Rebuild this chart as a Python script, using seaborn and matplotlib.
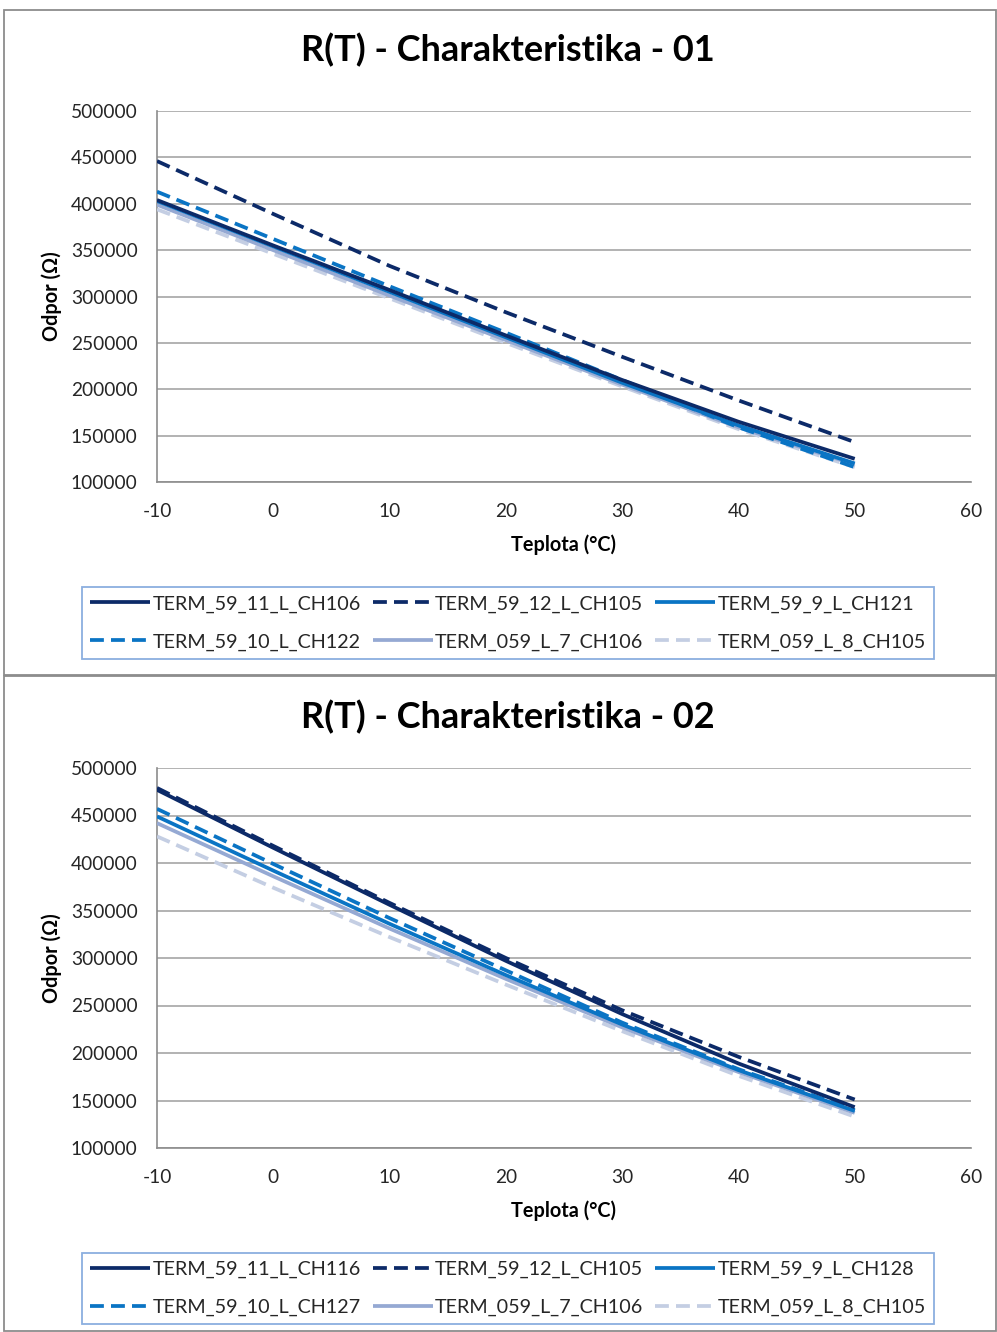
import matplotlib
matplotlib.use("Agg")
import matplotlib.pyplot as plt
import matplotlib.patches as mpatches
import seaborn as sns
import pandas as pd

# ---------------- data ----------------
temps = [-10, 0, 10, 20, 30, 40, 50]

titles = ["R(T) - Charakteristika - 01", "R(T) - Charakteristika - 02"]
x_label = "Teplota (°C)"
y_label = "Odpor (Ω)"
x_ticks = [-10, 0, 10, 20, 30, 40, 50, 60]
y_ticks = [100000, 150000, 200000, 250000, 300000, 350000, 400000, 450000, 500000]

names_1 = ["TERM_59_11_L_CH106", "TERM_59_12_L_CH105", "TERM_59_9_L_CH121",
           "TERM_59_10_L_CH122", "TERM_059_L_7_CH106", "TERM_059_L_8_CH105"]
values_1 = [
    [404000, 355000, 307000, 258000, 210000, 165000, 125000],
    [446000, 389000, 333000, 283000, 235000, 188000, 143000],
    [403000, 354000, 305000, 256000, 207000, 161000, 120000],
    [413000, 362000, 311000, 261000, 210000, 159000, 116000],
    [399000, 350000, 301000, 253000, 205000, 159000, 119000],
    [394000, 346000, 298000, 250000, 203000, 157000, 116000],
]

names_2 = ["TERM_59_11_L_CH116", "TERM_59_12_L_CH105", "TERM_59_9_L_CH128",
           "TERM_59_10_L_CH127", "TERM_059_L_7_CH106", "TERM_059_L_8_CH105"]
values_2 = [
    [477000, 416000, 356000, 297000, 241000, 189000, 143000],
    [479000, 418000, 358000, 300000, 245000, 196000, 151000],
    [449000, 392000, 336000, 282000, 230000, 182000, 139000],
    [457000, 399000, 342000, 287000, 232000, 183000, 140000],
    [442000, 386000, 331000, 278000, 227000, 180000, 137000],
    [428000, 374000, 322000, 272000, 223000, 176000, 133000],
]

# ---------------- style ----------------
colors = ["#0c2a68", "#0c2a68", "#0a74c4", "#0a74c4", "#95a9d3", "#c4cee3"]
dashed = [False, True, False, True, False, True]

sns.set_theme(style="white")
plt.rcParams["font.family"] = ["Lato", "DejaVu Sans"]

W, H = 997, 1332
fig = plt.figure(figsize=(W / 100, H / 100), dpi=100)
fig.patch.set_facecolor("white")


def fx(px):
    return px / W


def fy(py):
    return 1 - py / H


# panel borders
for (top, bot) in [(10, 675), (676, 1331)]:
    fig.patches.append(mpatches.Rectangle((fx(4), fy(bot)), fx(996) - fx(4), fy(top) - fy(bot),
                                          transform=fig.transFigure, fill=False,
                                          edgecolor="#8c8c8c", linewidth=1.3))

panels = [
    dict(names=names_1, values=values_1, ax_top=111, ax_bot=482, title_y=50,
         xlabel_y=545, leg_top=585, leg_bot=661),
    dict(names=names_2, values=values_2, ax_top=768, ax_bot=1148, title_y=717,
         xlabel_y=1211, leg_top=1250, leg_bot=1327),
]

for i, p in enumerate(panels):
    ax = fig.add_axes([fx(157), fy(p["ax_bot"]), fx(971) - fx(157),
                       fy(p["ax_top"]) - fy(p["ax_bot"])])
    ax.set_facecolor("white")
    for j, (name, vals) in enumerate(zip(p["names"], p["values"])):
        df = pd.DataFrame({"T": temps, "R": vals})
        sns.lineplot(data=df, x="T", y="R", ax=ax, color=colors[j], linewidth=2.7,
                     label=name, legend=False, zorder=3 + (5 - j) * 0.1)
        line = ax.get_lines()[-1]
        if dashed[j]:
            line.set_dashes((3.7, 1.9))
        line.set_solid_capstyle("butt")
        line.set_dash_capstyle("butt")

    ax.set_xlim(-10, 60)
    ax.set_ylim(100000, 500000)
    ax.set_xticks(x_ticks)
    ax.set_yticks(y_ticks)
    ax.set_xticklabels([str(t) for t in x_ticks])
    ax.set_yticklabels([str(t) for t in y_ticks])
    ax.yaxis.grid(True, color="#a6a6a6", linewidth=1.2)
    ax.xaxis.grid(False)
    ax.set_axisbelow(True)
    for s in ["top", "right"]:
        ax.spines[s].set_visible(False)
    for s in ["left", "bottom"]:
        ax.spines[s].set_color("#8c8c8c")
        ax.spines[s].set_linewidth(1.2)
    ax.tick_params(axis="both", which="major", direction="out", length=5, width=1.1,
                   color="#8c8c8c", labelsize=13.8, labelcolor="#262626")
    ax.tick_params(axis="x", pad=10)
    ax.tick_params(axis="y", pad=9)
    ax.set_xlabel("")
    ax.set_ylabel("")

    fig.text(fx(508), fy(p["title_y"]), titles[i], ha="center", va="center",
             fontsize=26, fontweight="bold", color="#000000")
    fig.text(fx(563), fy(p["xlabel_y"]), x_label, ha="center", va="center",
             fontsize=14.3, fontweight="bold", color="#000000")
    fig.text(fx(52), fy((p["ax_top"] + p["ax_bot"]) / 2), y_label, ha="center", va="center",
             rotation=90, fontsize=14.3, fontweight="bold", color="#000000")

    handles, labels = ax.get_legend_handles_labels()
    order = [0, 3, 1, 4, 2, 5]
    leg = fig.legend([handles[k] for k in order], [labels[k] for k in order],
                     ncol=3, loc="center",
                     bbox_to_anchor=(fx(508), fy((p["leg_top"] + p["leg_bot"]) / 2)),
                     frameon=True, fancybox=False, fontsize=14.2,
                     handlelength=3.05, handletextpad=0.12, columnspacing=0.6,
                     labelspacing=1.05, borderpad=0.4, borderaxespad=0)
    leg.get_frame().set_edgecolor("#6f9bd8")
    leg.get_frame().set_linewidth(1.3)
    for t in leg.get_texts():
        t.set_color("#262626")

fig.savefig("out.png", dpi=100, facecolor="white")
